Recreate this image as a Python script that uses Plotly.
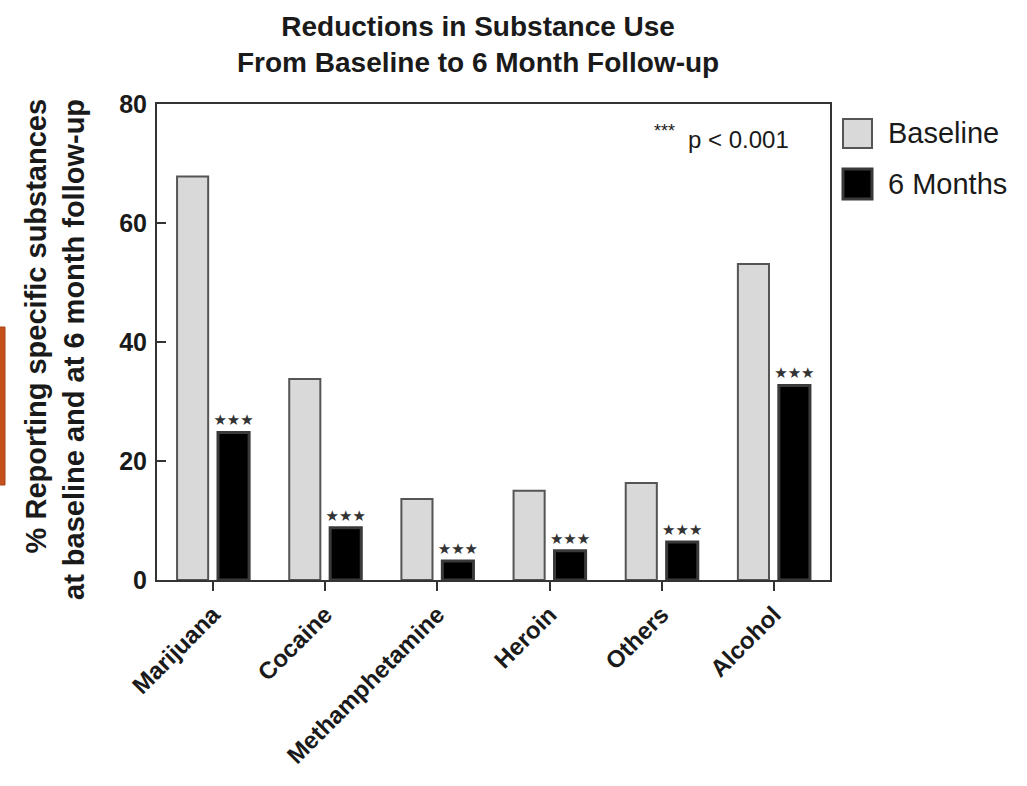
import plotly.graph_objects as go

categories = ["Marijuana", "Cocaine", "Methamphetamine", "Heroin", "Others", "Alcohol"]
baseline = [67.8, 33.8, 13.6, 15.0, 16.3, 53.1]
six_months = [24.8, 8.8, 3.2, 4.9, 6.4, 32.7]
sig_marks = ["★★★"] * 6
y_ticks = [0, 20, 40, 60, 80]

FONT = "Liberation Sans, Arial, Helvetica, sans-serif"

fig = go.Figure()
fig.add_trace(go.Bar(
    x=categories, y=baseline, name="Baseline",
    marker=dict(color="#d9d9d9", line=dict(color="#555555", width=2)),
    showlegend=False,
))
fig.add_trace(go.Bar(
    x=categories, y=six_months, name="6 Months",
    marker=dict(color="#000000", line=dict(color="#3a3a3a", width=3)),
    text=sig_marks, textposition="outside", constraintext="none", cliponaxis=False,
    textfont=dict(family="DejaVu Sans", size=15, color="#333333"),
    showlegend=False,
))

fig.update_layout(
    width=1027, height=786,
    margin=dict(l=157, r=197, t=104, b=206),
    paper_bgcolor="white", plot_bgcolor="white",
    barmode="group", bargap=0.27, bargroupgap=0.24,
    font=dict(family=FONT, color="#1a1a1a"),
    xaxis=dict(
        showline=True, linecolor="#333333", linewidth=2, mirror=True,
        ticks="outside", ticklen=9, tickwidth=2, tickcolor="#333333",
        tickangle=-45, tickfont=dict(family=FONT, size=24, weight="bold", color="#1a1a1a"),
        showgrid=False,
    ),
    yaxis=dict(
        range=[0, 80], tickvals=y_ticks,
        showline=True, linecolor="#333333", linewidth=2, mirror=True,
        ticks="inside", ticklen=9, tickwidth=2, tickcolor="#333333",
        tickfont=dict(family=FONT, size=25, weight="bold", color="#1a1a1a"),
        ticklabelstandoff=3,
        showgrid=False, zeroline=False,
    ),
)

def px_x(p):
    return (p - 157) / 673

def px_y(p):
    return (580 - p) / 476

annotations = [
    dict(text="Reductions in Substance Use<br>From Baseline to 6 Month Follow-up",
         xref="paper", yref="paper", x=px_x(478), y=px_y(44), xanchor="center", yanchor="middle",
         showarrow=False, align="center",
         font=dict(family=FONT, size=28, weight="bold", color="#1a1a1a")),
    dict(text="% Reporting specific substances<br>at baseline and at 6 month follow-up",
         xref="paper", yref="paper", x=px_x(55), y=px_y(350), xanchor="center", yanchor="middle",
         textangle=-90, showarrow=False, align="right",
         font=dict(family=FONT, size=29, weight="bold", color="#1a1a1a")),
    dict(text="***", xref="paper", yref="paper", x=px_x(677), y=px_y(131),
         xanchor="right", yanchor="middle", showarrow=False,
         font=dict(family=FONT, size=18, color="#1a1a1a")),
    dict(text="p < 0.001", xref="paper", yref="paper", x=px_x(686), y=px_y(140),
         xanchor="left", yanchor="middle", showarrow=False,
         font=dict(family=FONT, size=24, color="#1a1a1a")),
    dict(text="Baseline", xref="paper", yref="paper", x=px_x(886), y=px_y(133),
         xanchor="left", yanchor="middle", showarrow=False,
         font=dict(family=FONT, size=29, color="#1a1a1a")),
    dict(text="6 Months", xref="paper", yref="paper", x=px_x(886), y=px_y(184),
         xanchor="left", yanchor="middle", showarrow=False,
         font=dict(family=FONT, size=29, color="#1a1a1a")),
]
fig.update_layout(annotations=annotations)

shapes = [
    dict(type="rect", xref="paper", yref="paper", x0=px_x(843), x1=px_x(872), y0=px_y(148), y1=px_y(119),
         fillcolor="#d9d9d9", line=dict(color="#555555", width=2)),
    dict(type="rect", xref="paper", yref="paper", x0=px_x(843), x1=px_x(872), y0=px_y(199), y1=px_y(169),
         fillcolor="#000000", line=dict(color="#3a3a3a", width=3)),
    dict(type="rect", xref="paper", yref="paper", x0=px_x(-12), x1=px_x(5), y0=px_y(485), y1=px_y(327),
         fillcolor="#c4501c", line=dict(color="#a8431a", width=1)),
]
fig.update_layout(shapes=shapes)

fig.write_html("out.html", config={"displayModeBar": False},
               post_script="document.body.style.margin='0';")
